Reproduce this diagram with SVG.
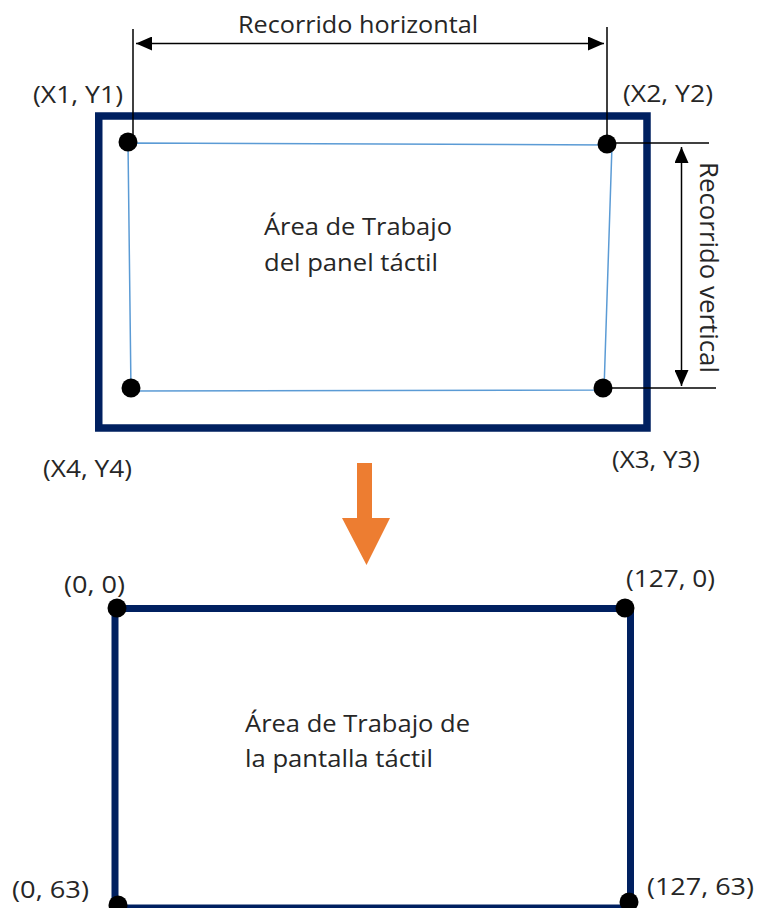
<svg xmlns="http://www.w3.org/2000/svg" width="757" height="908" viewBox="0 0 757 908">
  <style>
    .lbl { font-family: "Open Sans", "Liberation Sans", sans-serif; font-size: 23px; fill: #262626; }
    .frame { fill: none; stroke: #002060; stroke-width: 7.5; }
    .frame2 { fill: none; stroke: #002060; stroke-width: 7; }
    .dot { fill: #000; }
    .dim { stroke: #000; stroke-width: 1.5; fill: none; }
    .quad { fill: none; stroke: #5B9BD5; stroke-width: 1.5; }
  </style>
  <defs>
    <marker id="ah" viewBox="0 0 16 14" refX="16" refY="7" markerWidth="16" markerHeight="14" markerUnits="userSpaceOnUse" orient="auto-start-reverse">
      <path d="M0,0 L16,7 L0,14 z" fill="#000"/>
    </marker>
  </defs>

  <rect fill="#fff" x="0" y="0" width="757" height="908"/>

  <g id="panel">
    <rect class="frame" x="98.75" y="116" width="548.25" height="312"/>
    <polygon class="quad" points="128,143 612,145 604,390 131,391"/>
    <text class="lbl" x="264" y="235" textLength="188" lengthAdjust="spacingAndGlyphs">Área de Trabajo</text>
    <text class="lbl" x="264" y="271" textLength="174" lengthAdjust="spacingAndGlyphs">del panel táctil</text>
  </g>

  <g id="p1">
    <circle class="dot" cx="128" cy="142" r="9.5"/>
    <text class="lbl" x="33" y="103" textLength="90" lengthAdjust="spacingAndGlyphs">(X1, Y1)</text>
  </g>
  <g id="p2">
    <circle class="dot" cx="607" cy="144" r="9.5"/>
    <text class="lbl" x="623" y="102" textLength="90" lengthAdjust="spacingAndGlyphs">(X2, Y2)</text>
  </g>
  <g id="p3">
    <circle class="dot" cx="603" cy="388" r="9.5"/>
    <text class="lbl" x="612" y="468" textLength="88" lengthAdjust="spacingAndGlyphs">(X3, Y3)</text>
  </g>
  <g id="p4">
    <circle class="dot" cx="131" cy="388" r="9.5"/>
    <text class="lbl" x="43" y="477" textLength="89" lengthAdjust="spacingAndGlyphs">(X4, Y4)</text>
  </g>

  <g id="connectors">
    <!-- horizontal dimension -->
    <line class="dim" x1="133" y1="29" x2="133" y2="143"/>
    <line class="dim" x1="607" y1="27" x2="607" y2="143"/>
    <line class="dim" x1="136" y1="43.5" x2="604" y2="43.5" marker-start="url(#ah)" marker-end="url(#ah)"/>
    <!-- vertical dimension -->
    <line class="dim" x1="606" y1="143" x2="709" y2="143"/>
    <line class="dim" x1="604" y1="388" x2="716" y2="388"/>
    <line class="dim" x1="681.5" y1="147" x2="681.5" y2="386" marker-start="url(#ah)" marker-end="url(#ah)"/>
    <!-- transform arrow -->
    <polygon fill="#ED7D31" points="357,463 372,463 372,518 390,518 366.5,565 342,518 357,518"/>
  </g>

  <g id="dim-labels">
    <text class="lbl" x="238" y="33" textLength="240" lengthAdjust="spacingAndGlyphs">Recorrido horizontal</text>
    <text class="lbl" style="font-size:26px" transform="translate(700,162) rotate(90)" x="0" y="0" textLength="211" lengthAdjust="spacingAndGlyphs">Recorrido vertical</text>
  </g>

  <g id="screen">
    <rect class="frame2" x="115" y="608.5" width="515.5" height="299.5"/>
    <text class="lbl" x="245" y="732" textLength="225" lengthAdjust="spacingAndGlyphs">Área de Trabajo de</text>
    <text class="lbl" x="245" y="767" textLength="188" lengthAdjust="spacingAndGlyphs">la pantalla táctil</text>
  </g>

  <g id="s1">
    <circle class="dot" cx="117" cy="608" r="9.5"/>
    <text class="lbl" x="64" y="593" textLength="61" lengthAdjust="spacingAndGlyphs">(0, 0)</text>
  </g>
  <g id="s2">
    <circle class="dot" cx="625" cy="608" r="9.5"/>
    <text class="lbl" x="626" y="587" textLength="89" lengthAdjust="spacingAndGlyphs">(127, 0)</text>
  </g>
  <g id="s3">
    <circle class="dot" cx="118" cy="905" r="9.5"/>
    <text class="lbl" x="12" y="898" textLength="77" lengthAdjust="spacingAndGlyphs">(0, 63)</text>
  </g>
  <g id="s4">
    <circle class="dot" cx="629" cy="902" r="9.5"/>
    <text class="lbl" x="647" y="895" textLength="107" lengthAdjust="spacingAndGlyphs">(127, 63)</text>
  </g>
</svg>
